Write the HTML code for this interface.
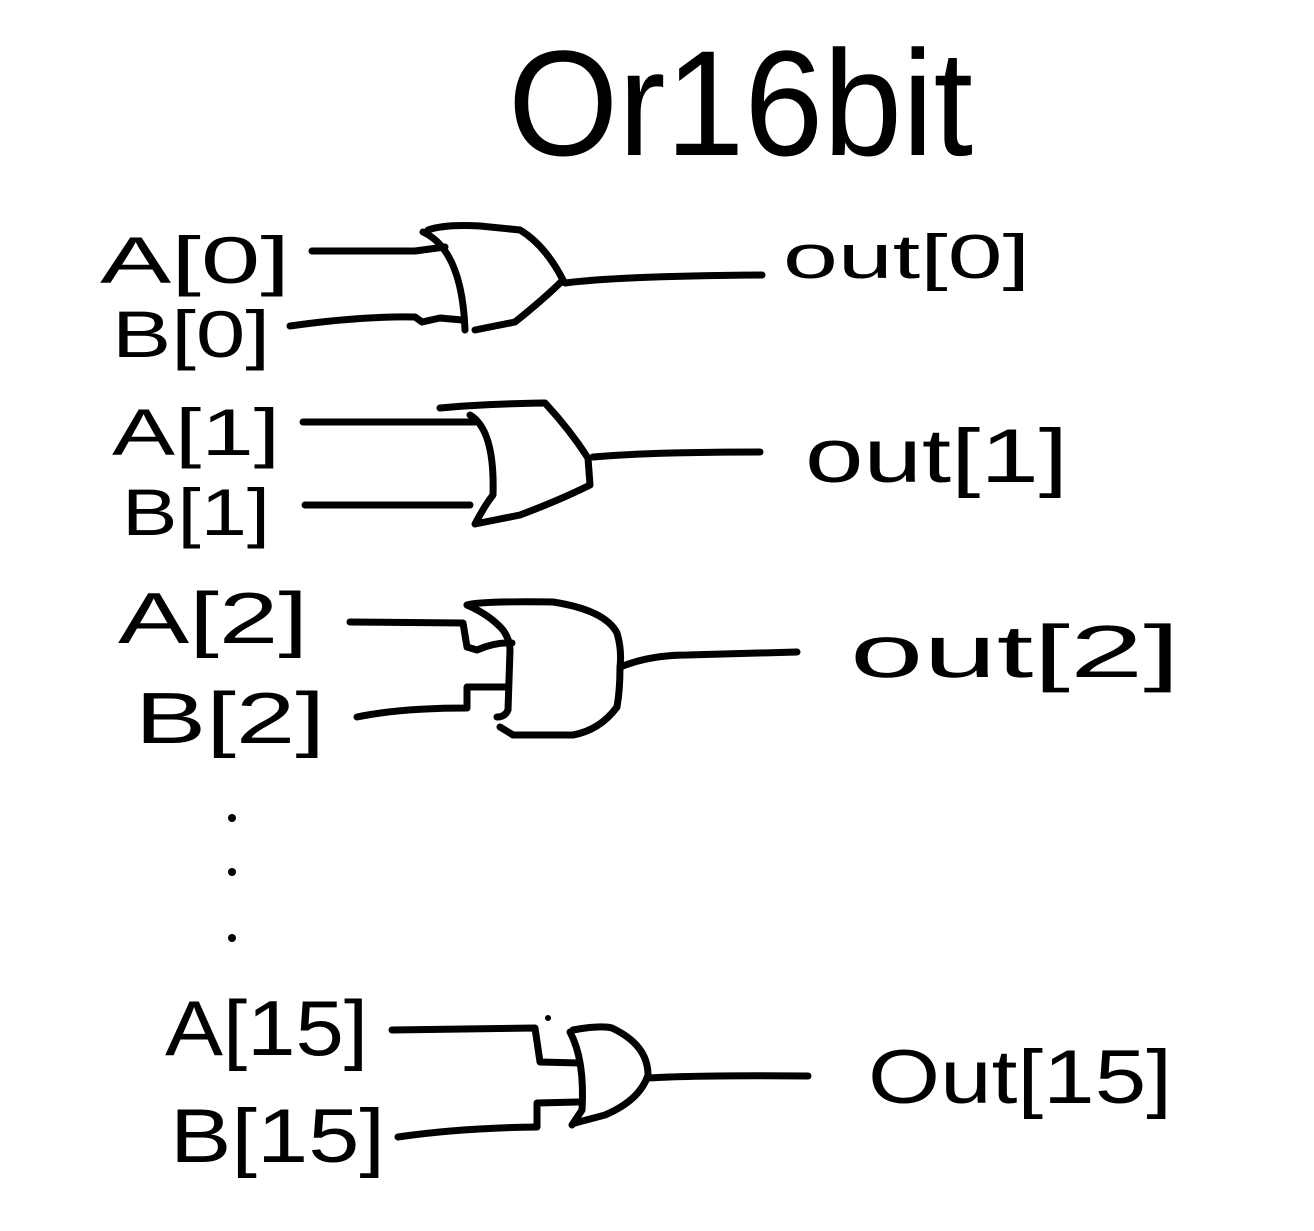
<!DOCTYPE html>
<html><head><meta charset="utf-8"><style>
html,body{margin:0;padding:0;background:#fff;}
svg{display:block;}
text{font-family:"Liberation Sans",sans-serif;fill:#000;}
</style></head><body>
<svg width="1314" height="1231" viewBox="0 0 1314 1231" xmlns="http://www.w3.org/2000/svg">
<g fill="none" stroke="#000" stroke-width="7" stroke-linecap="round" stroke-linejoin="round">
<!-- Gate 0 -->
<path d="M312,251 L415,251 L445,247"/>
<path d="M290,326 Q360,316 415,317 L422,322 L440,318 L462,320"/>
<path d="M423,232 Q462,250 465,330"/>
<path d="M428,230 Q445,224 480,226 L520,230 Q545,245 563,280 Q545,298 515,322 L475,330"/>
<path d="M565,283 Q620,276 762,275"/>
<!-- Gate 1 -->
<path d="M303,422 L475,422"/>
<path d="M305,505 L470,505"/>
<path d="M440,408 Q480,404 545,403 Q570,430 588,458 L590,485 Q560,500 520,515 L475,524 Q485,505 493,495 Q495,430 470,415"/>
<path d="M593,457 Q650,452 760,452"/>
<!-- Gate 2 -->
<path d="M350,622 L463,623 L467,647 L477,650 Q495,642 512,643"/>
<path d="M357,717 Q400,708 467,708 L467,687 L508,687"/>
<path d="M467,605 Q490,615 503,630 Q510,640 510,650 L508,710 Q505,717 497,717"/>
<path d="M467,605 Q480,601 553,602 Q605,610 617,633 Q622,650 620,667 Q620,690 617,707 Q600,730 573,735 L513,735 Q505,730 500,727"/>
<path d="M620,667 Q650,655 687,655 L797,652"/>
<!-- Gate 15 -->
<path d="M392,1030 L535,1028 L540,1062 L580,1063"/>
<path d="M398,1137 Q460,1128 537,1127 L537,1103 L578,1102"/>
<path d="M570,1032 Q585,1060 582,1110 L572,1125"/>
<path d="M573,1030 Q600,1025 612,1028 Q648,1045 648,1075 Q640,1100 605,1115 L575,1123"/>
<path d="M648,1078 Q700,1075 808,1076"/>
</g>
<g fill="#000">
<circle cx="232" cy="818" r="4"/>
<circle cx="232" cy="872" r="4"/>
<circle cx="232" cy="938" r="4"/>
<circle cx="548" cy="1018" r="3"/>
</g>
<g font-size="66">
<text x="508" y="155" font-size="150" textLength="465" lengthAdjust="spacingAndGlyphs">Or16bit</text>
<text x="100" y="283" textLength="190" lengthAdjust="spacingAndGlyphs">A[0]</text>
<text x="112" y="357" textLength="158" lengthAdjust="spacingAndGlyphs">B[0]</text>
<text x="112" y="455" textLength="168" lengthAdjust="spacingAndGlyphs">A[1]</text>
<text x="122" y="535" textLength="148" lengthAdjust="spacingAndGlyphs">B[1]</text>
<text x="118" y="643" font-size="72" textLength="190" lengthAdjust="spacingAndGlyphs">A[2]</text>
<text x="135" y="743" font-size="72" textLength="190" lengthAdjust="spacingAndGlyphs">B[2]</text>
<text x="165" y="1055" font-size="78" textLength="203" lengthAdjust="spacingAndGlyphs">A[15]</text>
<text x="170" y="1162" font-size="76" textLength="215" lengthAdjust="spacingAndGlyphs">B[15]</text>
<text x="783" y="278" font-size="62" textLength="247" lengthAdjust="spacingAndGlyphs">out[0]</text>
<text x="805" y="482" font-size="76" textLength="263" lengthAdjust="spacingAndGlyphs">out[1]</text>
<text x="850" y="677" font-size="74" textLength="330" lengthAdjust="spacingAndGlyphs">out[2]</text>
<text x="868" y="1103" font-size="76" textLength="304" lengthAdjust="spacingAndGlyphs">Out[15]</text>
</g>
</svg>
</body></html>
